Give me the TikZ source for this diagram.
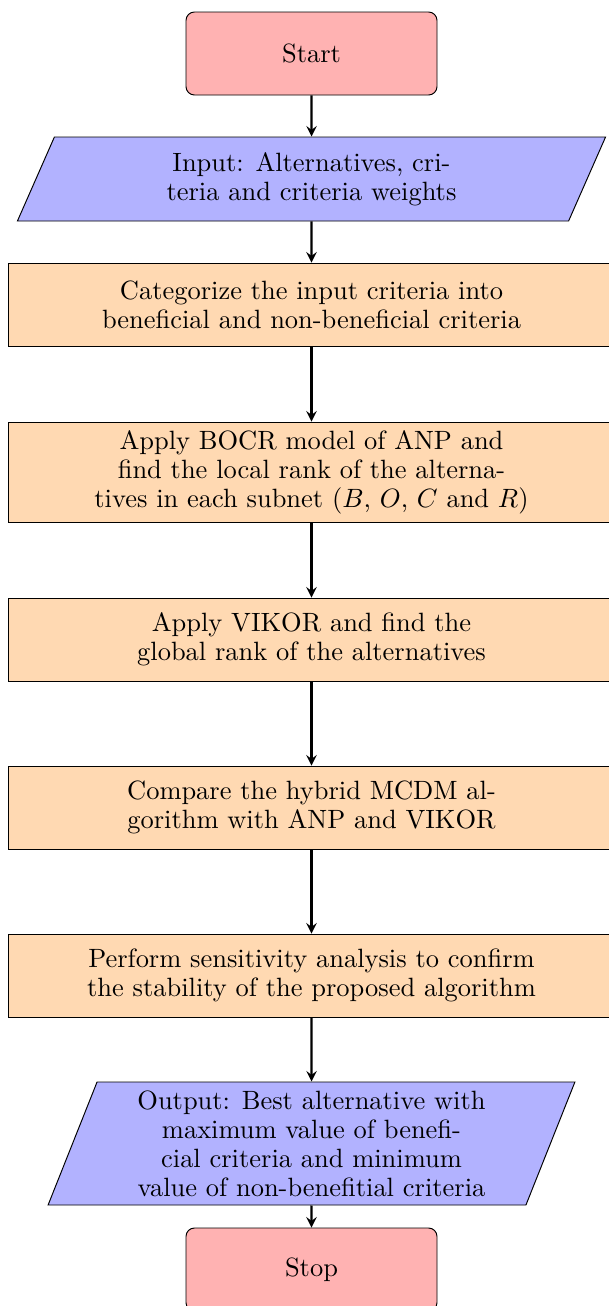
\documentclass[tikz,border=0pt]{standalone}
\usetikzlibrary{shapes.geometric,arrows}
\def\s{0.414pt}
\tikzset{
  every node/.style={font=\fontsize{10.95}{12}\selectfont},
  startstop/.style={rectangle, rounded corners=3.5pt, draw=black, fill=red!30,
    minimum width=251*\s, minimum height=83*\s, align=center},
  io/.style={trapezium, trapezium left angle=70, trapezium right angle=110,
    trapezium stretches=true, draw=black, fill=blue!30, align=center, inner sep=1pt},
  process/.style={rectangle, draw=black, fill=orange!30, minimum width=606*\s,
    minimum height=83*\s, align=center},
  arrow/.style={line width=0.9pt,->,>=stealth}
}
\begin{document}
\begin{tikzpicture}[x=0.414pt,y=-0.414pt]
\clip (0,0) rectangle (609,1306);
\node[startstop] (start) at (311.5,53.5) {Start};
\node[io, minimum width=589*\s, minimum height=84*\s] (in) at (311.5,179)
  {Input: Alternatives, cri-\\teria and criteria weights};
\node[process] (p1) at (311.5,304.5)
  {Categorize the input criteria into\\beneficial and non-beneficial criteria};
\node[process, minimum height=100*\s] (p2) at (311.5,472)
  {Apply BOCR model of ANP and\\find the local rank of the alterna-\\tives in each subnet ($B$, $O$, $C$ and $R$)};
\node[process] (p3) at (311.5,639.5)
  {Apply VIKOR and find the\\global rank of the alternatives};
\node[process] (p4) at (311.5,807.5)
  {Compare the hybrid MCDM al-\\gorithm with ANP and VIKOR};
\node[process] (p5) at (311.5,975.5)
  {Perform sensitivity analysis to confirm\\the stability of the proposed algorithm};
\node[io, minimum width=527*\s, minimum height=123*\s] (out) at (311.5,1143.5)
  {Output: Best alternative with\\maximum value of benefi-\\cial criteria and minimum\\value of non-benefitial criteria};
\node[startstop] (stop) at (311.5,1269.5) {Stop};
\draw[arrow] (start) -- (in);
\draw[arrow] (in) -- (p1);
\draw[arrow] (p1) -- (p2);
\draw[arrow] (p2) -- (p3);
\draw[arrow] (p3) -- (p4);
\draw[arrow] (p4) -- (p5);
\draw[arrow] (p5) -- (out);
\draw[arrow] (out) -- (stop);
\end{tikzpicture}
\end{document}
